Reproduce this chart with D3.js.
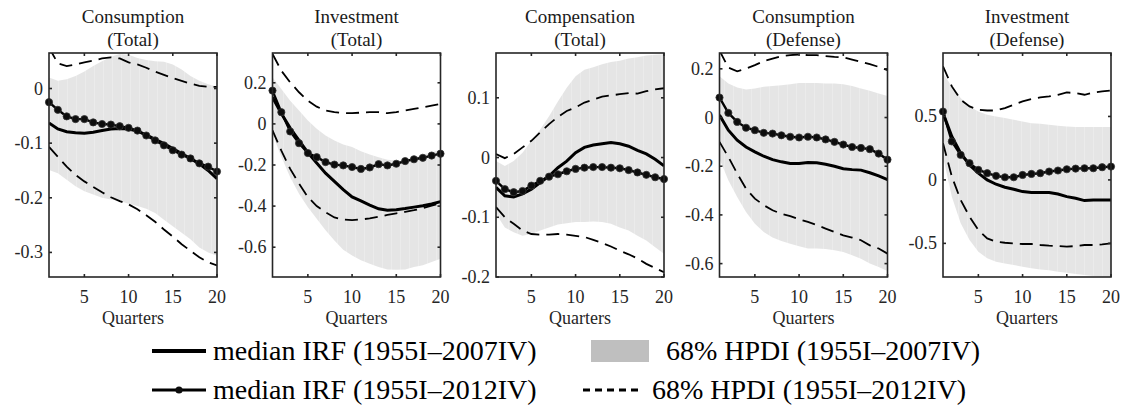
<!DOCTYPE html>
<html>
<head>
<meta charset="utf-8">
<script src="https://cdn.jsdelivr.net/npm/d3@7"></script>
<style>
  body { margin: 0; background: #fff; }
  svg { display: block; }
</style>
</head>
<body>
<svg id="chart" width="1127" height="408"></svg>
<script>
// Horizon (quarters after the shock)
const quarters = [1, 2, 3, 4, 5, 6, 7, 8, 9, 10, 11, 12, 13, 14, 15, 16, 17, 18, 19, 20];
const xTicks = [5, 10, 15, 20];

// Panel titles
const titleTop = ["Consumption", "Investment", "Compensation", "Consumption", "Investment"];
const titleSub = ["(Total)", "(Total)", "(Total)", "(Defense)", "(Defense)"];

// Consumption (Total)
const consTotMed07  = [-0.063,-0.074,-0.079,-0.081,-0.082,-0.080,-0.077,-0.074,-0.073,-0.074,-0.078,-0.085,-0.093,-0.101,-0.110,-0.119,-0.128,-0.138,-0.150,-0.165];
const consTotMed12  = [-0.025,-0.039,-0.051,-0.056,-0.056,-0.062,-0.065,-0.066,-0.069,-0.072,-0.077,-0.086,-0.095,-0.104,-0.113,-0.121,-0.128,-0.137,-0.143,-0.152];
const consTotBandHi = [0.020,0.014,0.017,0.023,0.031,0.041,0.050,0.058,0.063,0.062,0.056,0.052,0.050,0.049,0.044,0.035,0.023,0.014,0.008,0.003];
const consTotBandLo = [-0.149,-0.155,-0.167,-0.179,-0.188,-0.194,-0.200,-0.203,-0.206,-0.211,-0.215,-0.220,-0.228,-0.240,-0.252,-0.264,-0.276,-0.291,-0.300,-0.306];
const consTotDashHi = [0.075,0.046,0.041,0.044,0.048,0.051,0.055,0.057,0.055,0.048,0.044,0.038,0.031,0.025,0.019,0.014,0.009,0.005,0.003,0.003];
const consTotDashLo = [-0.107,-0.125,-0.143,-0.158,-0.170,-0.180,-0.190,-0.199,-0.206,-0.212,-0.221,-0.232,-0.244,-0.258,-0.271,-0.285,-0.297,-0.309,-0.318,-0.324];

// Investment (Total)
const invTotMed07  = [0.130,0.050,-0.020,-0.080,-0.140,-0.190,-0.240,-0.280,-0.320,-0.355,-0.375,-0.395,-0.413,-0.420,-0.418,-0.412,-0.405,-0.398,-0.390,-0.378];
const invTotMed12  = [0.162,0.057,-0.037,-0.094,-0.142,-0.162,-0.186,-0.198,-0.202,-0.210,-0.219,-0.212,-0.196,-0.202,-0.194,-0.181,-0.172,-0.165,-0.154,-0.145];
const invTotBandHi = [0.227,0.170,0.113,0.065,0.016,-0.024,-0.057,-0.081,-0.100,-0.113,-0.133,-0.149,-0.162,-0.175,-0.178,-0.176,-0.165,-0.149,-0.138,-0.126];
const invTotBandLo = [-0.050,-0.160,-0.260,-0.340,-0.405,-0.462,-0.518,-0.567,-0.612,-0.640,-0.664,-0.680,-0.696,-0.709,-0.710,-0.709,-0.696,-0.688,-0.672,-0.656];
const invTotDashHi = [0.340,0.259,0.202,0.154,0.113,0.084,0.065,0.057,0.053,0.052,0.055,0.057,0.057,0.052,0.057,0.065,0.073,0.081,0.089,0.097];
const invTotDashLo = [-0.032,-0.130,-0.219,-0.291,-0.356,-0.400,-0.430,-0.455,-0.465,-0.468,-0.465,-0.460,-0.452,-0.443,-0.435,-0.428,-0.420,-0.410,-0.398,-0.385];

// Compensation (Total)
const compTotMed07  = [-0.050,-0.064,-0.066,-0.061,-0.053,-0.042,-0.031,-0.017,-0.006,0.008,0.017,0.021,0.023,0.025,0.023,0.019,0.012,0.006,-0.003,-0.014];
const compTotMed12  = [-0.039,-0.053,-0.058,-0.056,-0.047,-0.039,-0.032,-0.028,-0.023,-0.019,-0.017,-0.016,-0.016,-0.017,-0.018,-0.021,-0.025,-0.029,-0.033,-0.036];
const compTotBandHi = [-0.006,-0.014,-0.006,0.008,0.028,0.047,0.069,0.094,0.117,0.136,0.147,0.151,0.156,0.160,0.162,0.166,0.168,0.171,0.172,0.173];
const compTotBandLo = [-0.094,-0.117,-0.125,-0.131,-0.128,-0.122,-0.117,-0.112,-0.110,-0.108,-0.108,-0.107,-0.108,-0.111,-0.117,-0.122,-0.131,-0.139,-0.150,-0.161];
const compTotDashHi = [0.006,-0.001,0.006,0.017,0.028,0.042,0.056,0.068,0.078,0.084,0.092,0.097,0.102,0.104,0.106,0.108,0.107,0.111,0.114,0.116];
const compTotDashLo = [-0.083,-0.100,-0.111,-0.122,-0.128,-0.129,-0.129,-0.128,-0.129,-0.131,-0.133,-0.138,-0.143,-0.149,-0.156,-0.162,-0.169,-0.178,-0.185,-0.192];

// Consumption (Defense)
const consDefMed07  = [0.010,-0.052,-0.093,-0.121,-0.141,-0.159,-0.173,-0.182,-0.189,-0.189,-0.185,-0.186,-0.192,-0.200,-0.210,-0.214,-0.216,-0.227,-0.240,-0.255];
const consDefMed12  = [0.082,0.019,-0.018,-0.042,-0.052,-0.063,-0.066,-0.073,-0.079,-0.082,-0.079,-0.082,-0.090,-0.100,-0.111,-0.121,-0.125,-0.130,-0.148,-0.173];
const consDefBandHi = [0.170,0.140,0.123,0.115,0.119,0.126,0.129,0.133,0.137,0.142,0.142,0.142,0.140,0.140,0.137,0.129,0.119,0.110,0.099,0.088];
const consDefBandLo = [-0.170,-0.258,-0.326,-0.388,-0.436,-0.470,-0.493,-0.507,-0.518,-0.529,-0.538,-0.538,-0.540,-0.545,-0.552,-0.566,-0.580,-0.600,-0.614,-0.630];
const consDefDashHi = [0.275,0.205,0.190,0.201,0.215,0.232,0.242,0.252,0.256,0.259,0.256,0.256,0.252,0.249,0.247,0.238,0.229,0.219,0.208,0.195];
const consDefDashLo = [-0.100,-0.162,-0.230,-0.292,-0.333,-0.360,-0.381,-0.395,-0.405,-0.418,-0.429,-0.442,-0.456,-0.470,-0.484,-0.493,-0.504,-0.525,-0.538,-0.559];

// Investment (Defense)
const invDefMed07  = [0.526,0.342,0.210,0.118,0.053,0.000,-0.034,-0.058,-0.074,-0.092,-0.100,-0.100,-0.100,-0.111,-0.132,-0.145,-0.163,-0.158,-0.158,-0.158];
const invDefMed12  = [0.539,0.303,0.197,0.132,0.079,0.053,0.032,0.021,0.021,0.039,0.047,0.053,0.066,0.074,0.084,0.089,0.092,0.092,0.100,0.105];
const invDefBandHi = [0.842,0.737,0.645,0.579,0.539,0.513,0.500,0.487,0.474,0.461,0.447,0.442,0.434,0.426,0.421,0.416,0.416,0.416,0.416,0.416];
const invDefBandLo = [0.184,-0.132,-0.342,-0.474,-0.566,-0.618,-0.645,-0.658,-0.671,-0.684,-0.697,-0.705,-0.711,-0.724,-0.732,-0.742,-0.750,-0.758,-0.763,-0.765];
const invDefDashHi = [0.895,0.737,0.632,0.579,0.553,0.547,0.547,0.566,0.592,0.618,0.637,0.650,0.658,0.671,0.689,0.684,0.671,0.689,0.697,0.705];
const invDefDashLo = [0.290,0.026,-0.158,-0.289,-0.395,-0.461,-0.487,-0.495,-0.500,-0.505,-0.505,-0.513,-0.518,-0.521,-0.526,-0.521,-0.513,-0.513,-0.508,-0.500];

// Vertical axis ranges and tick labels for each panel
const yDomains = [[-0.345, 0.065], [-0.745, 0.345], [-0.2, 0.175], [-0.655, 0.265], [-0.765, 1.0]];
const yTickValues = [[-0.3, -0.2, -0.1, 0], [-0.6, -0.4, -0.2, 0, 0.2], [-0.2, -0.1, 0, 0.1], [-0.6, -0.4, -0.2, 0, 0.2], [-0.5, 0, 0.5]];
const yTickLabels = [["-0.3", "-0.2", "-0.1", "0"], ["-0.6", "-0.4", "-0.2", "0", "0.2"], ["-0.2", "-0.1", "0", "0.1"], ["-0.6", "-0.4", "-0.2", "0", "0.2"], ["-0.5", "0", "0.5"]];

// Legend entries
const legendLabels = ["median IRF (1955I\u20132007IV)", "68% HPDI (1955I\u20132007IV)", "median IRF (1955I\u20132012IV)", "68% HPDI (1955I\u20132012IV)"];

const panels = [
  { med07: consTotMed07, med12: consTotMed12, bandHi: consTotBandHi, bandLo: consTotBandLo, dashHi: consTotDashHi, dashLo: consTotDashLo },
  { med07: invTotMed07,  med12: invTotMed12,  bandHi: invTotBandHi,  bandLo: invTotBandLo,  dashHi: invTotDashHi,  dashLo: invTotDashLo },
  { med07: compTotMed07, med12: compTotMed12, bandHi: compTotBandHi, bandLo: compTotBandLo, dashHi: compTotDashHi, dashLo: compTotDashLo },
  { med07: consDefMed07, med12: consDefMed12, bandHi: consDefBandHi, bandLo: consDefBandLo, dashHi: consDefDashHi, dashLo: consDefDashLo },
  { med07: invDefMed07,  med12: invDefMed12,  bandHi: invDefBandHi,  bandLo: invDefBandLo,  dashHi: invDefDashHi,  dashLo: invDefDashLo }
];

const svg = d3.select("#chart");
const axisColor = "#262626";
const serif = "'Liberation Serif', 'Times New Roman', serif";

// Faintly striped fill used for the shaded band
const defs = svg.append("defs");
const pat = defs.append("pattern").attr("id", "bandFill").attr("patternUnits", "userSpaceOnUse")
  .attr("width", 9).attr("height", 10);
pat.append("rect").attr("width", 9).attr("height", 10).attr("fill", "#e5e5e5");
pat.append("rect").attr("x", 4).attr("width", 1).attr("height", 10).attr("fill", "#ebebeb");

const plotTop = 53, plotBottom = 277, plotW = 168, firstLeft = 49, step = 223.5;
const tickLen = 3;

panels.forEach((p, i) => {
  const left = firstLeft + i * step;
  const x = d3.scaleLinear().domain([1, 20]).range([left, left + plotW]);
  const y = d3.scaleLinear().domain(yDomains[i]).range([plotBottom, plotTop]);
  const g = svg.append("g");

  const clipId = "clip" + i;
  defs.append("clipPath").attr("id", clipId)
    .append("rect").attr("x", left).attr("y", plotTop).attr("width", plotW).attr("height", plotBottom - plotTop);

  const plot = g.append("g").attr("clip-path", `url(#${clipId})`);

  // 68% band, 1955I-2007IV sample
  const area = d3.area()
    .x((d, k) => x(quarters[k]))
    .y0((d, k) => y(p.bandLo[k]))
    .y1((d, k) => y(p.bandHi[k]));
  plot.append("path").datum(quarters).attr("d", area).attr("fill", "url(#bandFill)");

  const line = arr => d3.line().x((d, k) => x(quarters[k])).y((d, k) => y(arr[k]))(arr);

  // 68% bands, 1955I-2012IV sample
  [p.dashHi, p.dashLo].forEach(arr => {
    plot.append("path").attr("d", line(arr))
      .attr("fill", "none").attr("stroke", "#000").attr("stroke-width", 1.8)
      .attr("stroke-dasharray", "13,7");
  });

  // Median, 1955I-2007IV
  plot.append("path").attr("d", line(p.med07))
    .attr("fill", "none").attr("stroke", "#000").attr("stroke-width", 3);

  // Median, 1955I-2012IV with markers
  plot.append("path").attr("d", line(p.med12))
    .attr("fill", "none").attr("stroke", "#000").attr("stroke-width", 2.4);
  g.append("g").selectAll("circle").data(p.med12).join("circle")
    .attr("cx", (d, k) => x(quarters[k])).attr("cy", d => y(d))
    .attr("r", 3.6).attr("fill", "#0d0d0d").attr("stroke", "#333").attr("stroke-width", 0.8);

  // Box and inward ticks
  const axes = g.append("g").attr("stroke", axisColor).attr("stroke-width", 1.6).attr("fill", "none");
  axes.append("rect").attr("x", left).attr("y", plotTop).attr("width", plotW).attr("height", plotBottom - plotTop);
  xTicks.forEach(t => {
    axes.append("line").attr("x1", x(t)).attr("x2", x(t)).attr("y1", plotBottom).attr("y2", plotBottom - tickLen);
    axes.append("line").attr("x1", x(t)).attr("x2", x(t)).attr("y1", plotTop).attr("y2", plotTop + tickLen);
  });
  yTickValues[i].forEach(t => {
    axes.append("line").attr("x1", left).attr("x2", left + tickLen).attr("y1", y(t)).attr("y2", y(t));
    axes.append("line").attr("x1", left + plotW).attr("x2", left + plotW - tickLen).attr("y1", y(t)).attr("y2", y(t));
  });

  // Tick labels
  const labels = g.append("g").attr("font-family", serif).attr("font-size", 18).attr("fill", axisColor);
  xTicks.forEach(t => {
    labels.append("text").attr("x", x(t)).attr("y", plotBottom + 26).attr("text-anchor", "middle").text(t);
  });
  yTickValues[i].forEach((t, k) => {
    labels.append("text").attr("x", left - 6).attr("y", y(t) + 6).attr("text-anchor", "end").text(yTickLabels[i][k]);
  });
  labels.append("text").attr("x", left + plotW / 2).attr("y", plotBottom + 47)
    .attr("text-anchor", "middle").text("Quarters");

  // Panel title
  const title = g.append("g").attr("font-family", serif).attr("font-size", 19).attr("fill", "#1a1a1a").attr("text-anchor", "middle");
  title.append("text").attr("x", left + plotW / 2).attr("y", 23).text(titleTop[i]);
  title.append("text").attr("x", left + plotW / 2).attr("y", 46).text(titleSub[i]);
});

// Legend
const leg = svg.append("g").attr("font-family", serif).attr("font-size", 28).attr("fill", "#000");
const row1 = 351, row2 = 390;

leg.append("line").attr("x1", 152).attr("x2", 206).attr("y1", row1).attr("y2", row1)
  .attr("stroke", "#000").attr("stroke-width", 4);
leg.append("text").attr("x", 213).attr("y", row1 + 9).text(legendLabels[0]);

leg.append("rect").attr("x", 591).attr("y", row1 - 11).attr("width", 58).attr("height", 22).attr("fill", "#bfbfbf");
leg.append("text").attr("x", 666).attr("y", row1 + 9).text(legendLabels[1]);

leg.append("line").attr("x1", 152).attr("x2", 206).attr("y1", row2).attr("y2", row2)
  .attr("stroke", "#000").attr("stroke-width", 3);
leg.append("circle").attr("cx", 179).attr("cy", row2).attr("r", 3.6).attr("fill", "#0d0d0d");
leg.append("text").attr("x", 213).attr("y", row2 + 9).text(legendLabels[2]);

leg.append("line").attr("x1", 583).attr("x2", 640).attr("y1", row2).attr("y2", row2)
  .attr("stroke", "#000").attr("stroke-width", 3).attr("stroke-dasharray", "7,5");
leg.append("text").attr("x", 652).attr("y", row2 + 9).text(legendLabels[3]);
</script>
</body>
</html>
